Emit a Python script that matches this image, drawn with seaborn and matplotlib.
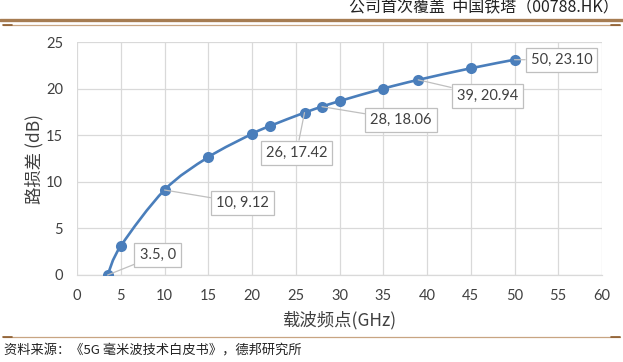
import matplotlib
matplotlib.use("Agg")
import matplotlib.pyplot as plt
import seaborn as sns
import pandas as pd
from matplotlib.lines import Line2D
from matplotlib.path import Path
from matplotlib.patches import PathPatch

freq = [3.5, 5, 10, 15, 20, 22, 26, 28, 30, 35, 39, 45, 50]
loss = [0, 3.10, 9.12, 12.64, 15.14, 15.97, 17.42, 18.06, 18.66, 20.00, 20.94, 22.18, 23.10]
labeled = [3.5, 10, 26, 28, 39, 50]
label_text = ["3.5, 0", "10, 9.12", "26, 17.42", "28, 18.06", "39, 20.94", "50, 23.10"]
xticks = list(range(0, 61, 5))
yticks = list(range(0, 26, 5))
header = "公司首次覆盖  中国铁塔（00788.HK）"
source = "资料来源：《5G 毫米波技术白皮书》，德邦研究所"
xlabel = "载波频点(GHz)"
ylabel = "路损差 (dB)"

df = pd.DataFrame({"freq": freq, "loss": loss})

sns.set_theme(style="white")
plt.rcParams["font.family"] = ["Lato", "Noto Sans CJK SC", "DejaVu Sans"]

W, H = 623, 362
fig = plt.figure(figsize=(W / 100, H / 100), dpi=100)
ax = fig.add_axes([77 / W, 1 - 275 / H, (602 - 77) / W, (275 - 42) / H])

blue = "#4A7EBB"

# smoothed connecting line (Excel-style smoothing) built from the data points
pts = list(zip(df["freq"], df["loss"]))
verts = [pts[0]]
codes = [Path.MOVETO]
n = len(pts)
for i in range(n - 1):
    p0 = pts[i - 1] if i > 0 else pts[i]
    p1 = pts[i]
    p2 = pts[i + 1]
    p3 = pts[i + 2] if i + 2 < n else pts[i + 1]
    c1 = (p1[0] + (p2[0] - p0[0]) / 6, p1[1] + (p2[1] - p0[1]) / 6)
    c2 = (p2[0] - (p3[0] - p1[0]) / 6, p2[1] - (p3[1] - p1[1]) / 6)
    verts += [c1, c2, p2]
    codes += [Path.CURVE4] * 3
ax.add_patch(PathPatch(Path(verts, codes), fc="none", ec=blue, lw=1.9,
                       transform=ax.transData, zorder=3, capstyle="round"))

sns.scatterplot(data=df, x="freq", y="loss", ax=ax, color=blue, s=64,
                linewidth=0, zorder=4)

ax.set_xlim(0, 60)
ax.set_ylim(0, 25)
ax.set_xticks(xticks)
ax.set_yticks(yticks)
ax.tick_params(axis="both", labelsize=10.5, colors="#404040", length=0)
ax.tick_params(axis="x", pad=10)
ax.tick_params(axis="y", pad=10)
ax.grid(True, color="#D9D9D9", linewidth=0.9)
for s in ["top", "right", "left"]:
    ax.spines[s].set_visible(False)
ax.spines["bottom"].set_color("#D9D9D9")
ax.spines["bottom"].set_linewidth(0.9)
ax.set_xlabel(xlabel, fontsize=12.5, color="#404040",
              family=["Noto Sans CJK SC", "DejaVu Sans"], labelpad=6)
ax.set_ylabel(ylabel, fontsize=12.5, color="#404040",
              family=["Noto Sans CJK SC", "DejaVu Sans"], labelpad=2)

# label offsets in pixels (position of label boxes)
offsets = [(50, 20), (78, -13), (-8, -40), (79, -13), (69, -16), (47, 0)]
for xv, txt, off in zip(labeled, label_text, offsets):
    yv = loss[freq.index(xv)]
    ax.annotate(txt, xy=(xv, yv), xytext=off, textcoords="offset pixels",
                ha="center", va="center", fontsize=10.5, color="#404040",
                bbox=dict(boxstyle="square,pad=0.35", fc="white", ec="#BFBFBF", lw=0.9),
                arrowprops=dict(arrowstyle="-", color="#BFBFBF", lw=0.9,
                                shrinkA=0, shrinkB=0),
                zorder=5)

# header decorations
brown = "#A67C52"
fig.add_artist(Line2D([0, 1], [1 - 19.5 / H] * 2, color=brown, lw=2.4,
                      transform=fig.transFigure))
fig.add_artist(Line2D([3 / W, 1 - 3 / W], [1 - 24.5 / H] * 2, color="#C8A582", lw=0.9,
                      transform=fig.transFigure))
fig.add_artist(Line2D([3 / W, 12 / W], [1 - 24.5 / H] * 2, color="#8B5A2B", lw=1.2,
                      transform=fig.transFigure))
fig.add_artist(Line2D([1 - 12 / W, 1 - 3 / W], [1 - 24.5 / H] * 2, color="#8B5A2B", lw=1.2,
                      transform=fig.transFigure))
fig.add_artist(Line2D([3 / W, 1 - 3 / W], [1 - 337 / H] * 2, color="#C8A582", lw=0.9,
                      transform=fig.transFigure))
fig.add_artist(Line2D([3 / W, 12 / W], [1 - 337 / H] * 2, color="#8B5A2B", lw=1.2,
                      transform=fig.transFigure))
fig.add_artist(Line2D([1 - 12 / W, 1 - 3 / W], [1 - 337 / H] * 2, color="#8B5A2B", lw=1.2,
                      transform=fig.transFigure))

fig.text(1 - 4 / W, 1 - 8 / H, header, ha="right", va="center", fontsize=11.5,
         color="#222222", family=["Noto Sans CJK SC", "DejaVu Sans"])
fig.text(4 / W, 1 - 351 / H, source, ha="left", va="center", fontsize=9.5,
         color="#222222", family=["Noto Sans CJK SC", "DejaVu Sans"])

fig.savefig("out.png", dpi=100)
